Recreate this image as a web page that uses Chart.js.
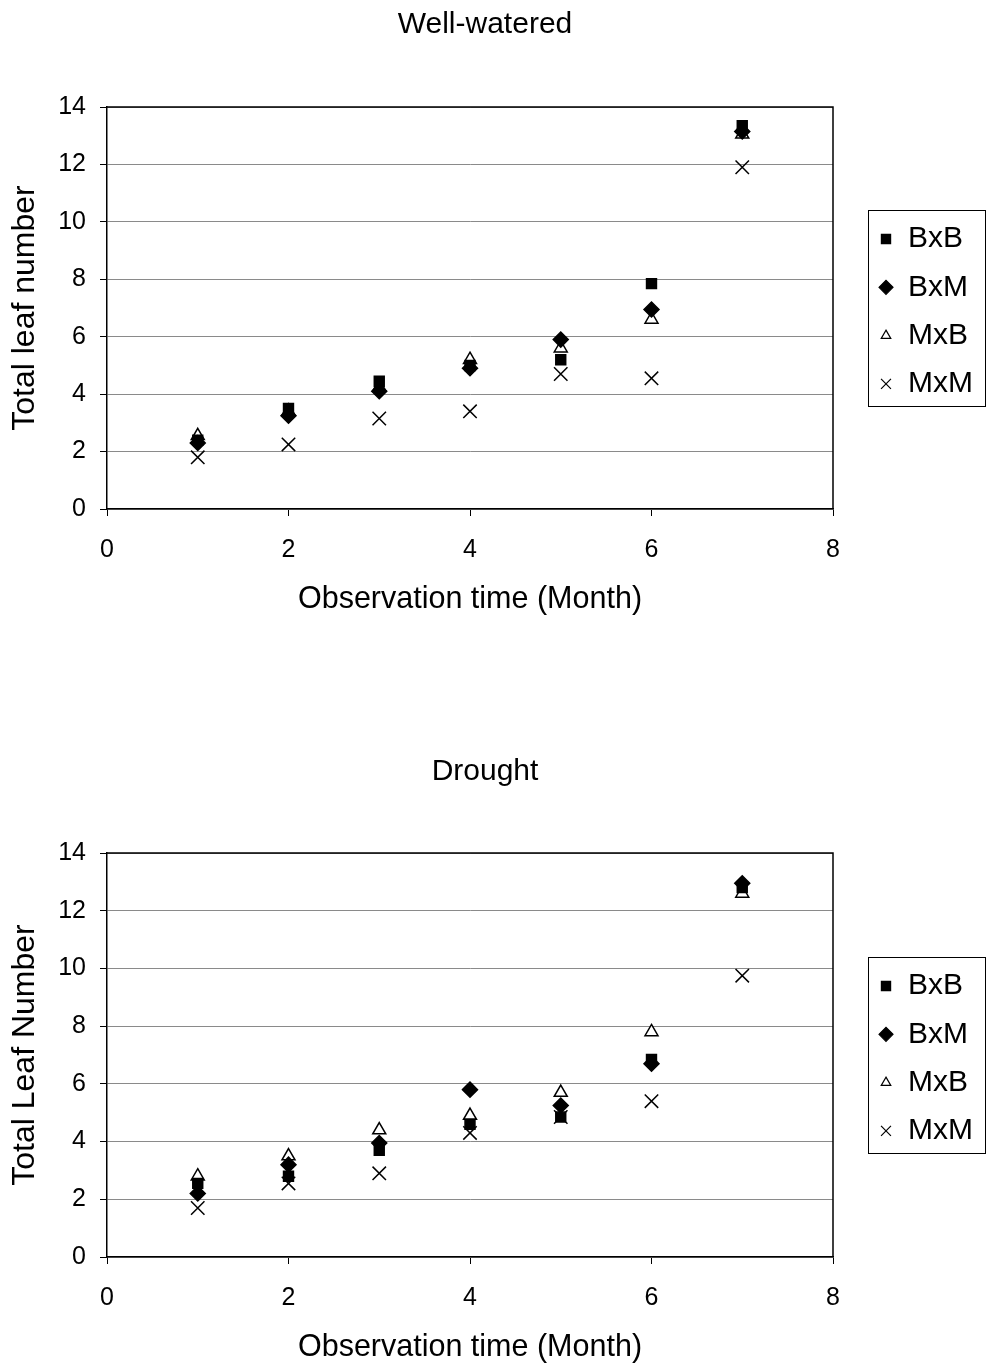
<!DOCTYPE html>
<html>
<head>
<meta charset="utf-8">
<script src="https://cdn.jsdelivr.net/npm/chart.js@4/dist/chart.umd.min.js"></script>
<style>
  html, body { margin: 0; padding: 0; background: #fff; }
  body { width: 986px; height: 1368px; position: relative; overflow: hidden; }
  .box { position: absolute; left: 0; width: 986px; }
</style>
</head>
<body>
<div class="box" style="top:0;height:640px"><canvas id="wwChart"></canvas></div>
<div class="box" style="top:684px;height:684px"><canvas id="drChart"></canvas></div>
<script>
// --- data ---
const months = [1, 2, 3, 4, 5, 6, 7];
const xTicks = [0, 2, 4, 6, 8];
const yTicks = [0, 2, 4, 6, 8, 10, 12, 14];
const crosses = ['BxB', 'BxM', 'MxB', 'MxM'];

// Well-watered
const wwBxB = [2.4, 3.5, 4.45, 5.0, 5.2, 7.85, 13.35];
const wwBxM = [2.3, 3.25, 4.1, 4.9, 5.9, 6.95, 13.15];
const wwMxB = [2.55, 3.4, 4.25, 5.2, 5.6, 6.6, 13.05];
const wwMxM = [1.8, 2.25, 3.15, 3.4, 4.7, 4.55, 11.9];

// Drought
const drBxB = [2.55, 2.8, 3.7, 4.6, 4.85, 6.85, 12.8];
const drBxM = [2.2, 3.2, 3.95, 5.8, 5.25, 6.7, 12.95];
const drMxB = [2.8, 3.5, 4.4, 4.9, 5.7, 7.8, 12.6];
const drMxM = [1.7, 2.55, 2.9, 4.3, 4.85, 5.4, 9.75];

const FONT = '"Liberation Sans", Arial, sans-serif';

// marker look per cross: [pointStyle, fill, radius, legendRadius]
const markers = [
  ['rect',     '#000', 7,   6.5],
  ['rectRot',  '#000', 7.5, 7],
  ['triangle', '#fff', 7.5, 5.5],
  ['crossRot', '#000', 9.5, 7],
];

function makeDatasets(series) {
  return series.map((vals, i) => ({
    label: crosses[i],
    data: months.map((m, j) => ({ x: m, y: vals[j] })),
    pointStyle: markers[i][0],
    backgroundColor: markers[i][1],
    borderColor: '#000',
    borderWidth: 1.5,
    pointRadius: markers[i][2],
    pointHoverRadius: markers[i][2],
    legendRadius: markers[i][3],
  }));
}

// chart heading, box frame on top/right, boxed legend beside the plot
const frameAndLegend = {
  id: 'frameAndLegend',
  afterDraw(chart, args, opts) {
    const { ctx, chartArea: a } = chart;
    ctx.save();

    ctx.fillStyle = '#000';
    ctx.font = '30px ' + FONT;
    ctx.textAlign = 'center';
    ctx.textBaseline = 'middle';
    ctx.fillText(opts.heading, 485, opts.headingY);

    ctx.strokeStyle = '#000';
    ctx.lineWidth = 1.5;
    ctx.beginPath();
    ctx.moveTo(a.left, a.top);
    ctx.lineTo(a.right, a.top);
    ctx.lineTo(a.right, a.bottom);
    ctx.stroke();

    const w = 117, h = 196;
    const left = a.right + 35;
    const top = (a.top + a.bottom) / 2 - h / 2;
    ctx.lineWidth = 1;
    ctx.strokeRect(left + 0.5, top + 0.5, w, h);

    chart.data.datasets.forEach((ds, i) => {
      const y = top + 29 + i * 48.3;
      ctx.fillStyle = ds.backgroundColor;
      ctx.strokeStyle = '#000';
      ctx.lineWidth = 1.2;
      Chart.helpers.drawPoint(ctx, {
        pointStyle: ds.pointStyle, rotation: 0, radius: ds.legendRadius, borderWidth: 1.2,
      }, left + 18, y);
      ctx.fillStyle = '#000';
      ctx.font = '30px ' + FONT;
      ctx.textBaseline = 'middle';
      ctx.textAlign = 'left';
      ctx.fillText(ds.label, left + 40, y);
    });
    ctx.restore();
  },
};

function makeChart(id, heading, yTitle, series, layoutCfg) {
  return new Chart(document.getElementById(id), {
    type: 'scatter',
    data: { datasets: makeDatasets(series) },
    plugins: [frameAndLegend],
    options: {
      responsive: true,
      maintainAspectRatio: false,
      animation: false,
      layout: { padding: { left: 0, right: 153, top: layoutCfg.plotTop, bottom: 0 } },
      plugins: {
        legend: { display: false },
        tooltip: { enabled: false },
        title: { display: false },
        frameAndLegend: { heading, headingY: layoutCfg.headingY },
      },
      scales: {
        x: {
          type: 'linear',
          min: 0, max: 8,
          afterBuildTicks: s => { s.ticks = xTicks.map(v => ({ value: v })); },
          afterFit: s => { s.height = layoutCfg.xHeight; },
          grid: { display: true, drawOnChartArea: false, drawTicks: true, tickLength: 7, tickColor: '#000' },
          border: { display: true, color: '#000', width: 1.5 },
          ticks: { color: '#000', font: { family: FONT, size: 25 }, padding: 19 },
          title: {
            display: true,
            text: 'Observation time (Month)',
            color: '#000',
            font: { family: FONT, size: 30.5 },
            padding: { top: 0, bottom: layoutCfg.xTitleBottom },
          },
        },
        y: {
          type: 'linear',
          min: 0, max: 14,
          afterBuildTicks: s => { s.ticks = yTicks.map(v => ({ value: v })); },
          afterFit: s => { s.width = 107; },
          grid: { color: '#8a8a8a', lineWidth: 1, drawTicks: true, tickLength: 7, tickColor: '#000' },
          border: { display: true, color: '#000', width: 1.5 },
          ticks: { color: '#000', font: { family: FONT, size: 25 }, padding: 14 },
          title: {
            display: true,
            text: yTitle,
            color: '#000',
            font: { family: FONT, size: 32 },
            padding: { top: 6, bottom: 0 },
          },
        },
      },
    },
  });
}

makeChart('wwChart', 'Well-watered', 'Total leaf number',
  [wwBxB, wwBxM, wwMxB, wwMxM],
  { plotTop: 107, headingY: 25, xHeight: 131, xTitleBottom: 21.7 });

makeChart('drChart', 'Drought', 'Total Leaf Number',
  [drBxB, drBxM, drMxB, drMxM],
  { plotTop: 169, headingY: 88, xHeight: 111, xTitleBottom: 1.7 });
</script>
</body>
</html>
